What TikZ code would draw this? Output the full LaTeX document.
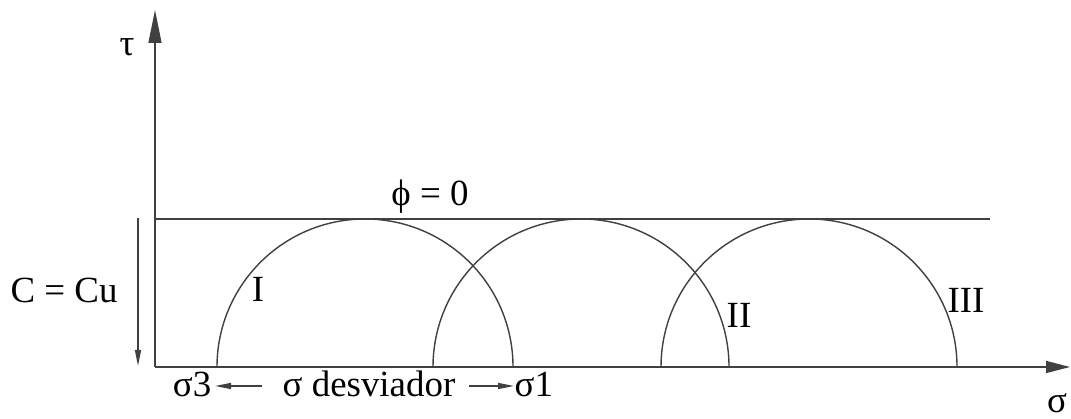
\documentclass[tikz,border=0pt]{standalone}
\usepackage{fontspec}
\setmainfont{Liberation Serif}
\usetikzlibrary{arrows.meta,positioning}

\tikzset{
  thinline/.style={line width=0.4pt, color=black!75},
  smallarrow/.style={thinline, -{Triangle[length=1.6mm,width=0.6mm]}},
  lbl/.style={inner sep=0pt, font=\fontsize{10.5}{12}\selectfont},
  bottomlbl/.style={lbl, text height=1.6ex, text depth=0.3ex}
}

\begin{document}
\begin{tikzpicture}[x=0.1mm, y=0.1mm]

   \useasboundingbox (0,0) rectangle (1071,419);

   % axes
   \coordinate (O) at (155,52);
   \coordinate (tauend) at (155,409);
   \coordinate (sigend) at (1070,52);
   \draw[thinline, -{Triangle[length=3.3mm,width=1.3mm]}] (O) -- (tauend);
   \draw[thinline, -{Triangle[length=2.4mm,width=1.2mm]}] (O) -- (sigend);
   \node[lbl] (tau) at (127,372) {τ};
   \node[lbl] (sig) at (1057,16) {σ};

   % envelope phi = 0
   \coordinate (envL) at (155,200);
   \coordinate (envR) at (990,200);
   \draw[thinline] (envL) -- (envR);
   \node[lbl] (phi) at (430,222) {ϕ = 0};

   % Mohr circles
   \foreach \cx in {365,581,809}
      \draw[thinline] ({\cx-148},52) arc[start angle=180, end angle=0, radius=148];
   \node[lbl] (cI) at (258,130) {I};
   \node[lbl] (cII) at (739,104) {II};
   \node[lbl] (cIII) at (966,119) {III};

   % cohesion
   \coordinate (cbot) at (138,53);
   \coordinate (ctop) at (138,201);
   \draw[smallarrow, {Triangle[length=1.6mm,width=0.6mm]}-] (cbot) -- (ctop);
   \node[lbl] (coh) at (64,129) {C = Cu};

   % deviator stress
   \node[bottomlbl] (desv) at (369,33) {σ desviador};
   \node[bottomlbl, left=7mm of desv] (sig3) {σ3};
   \node[bottomlbl, right=5.8mm of desv] (sig1) {σ1};
   \draw[smallarrow, shorten <=2mm, shorten >=0.3mm] (desv.west) -- (sig3.east);
   \draw[smallarrow, shorten <=1.3mm] (desv.east) -- (sig1.west);

\end{tikzpicture}
\end{document}
